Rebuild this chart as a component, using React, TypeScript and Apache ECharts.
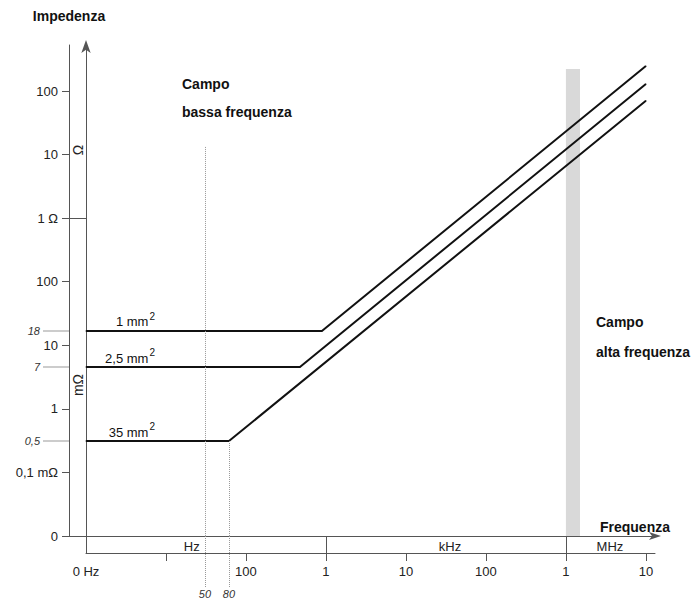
import React, { useEffect, useRef } from 'react';
import * as echarts from 'echarts';

// ---------- data (frequency in Hz, impedance in ohm) ----------
const conductorNames = ['1 mm', '2,5 mm', '35 mm'];
const flatImpedance = [0.0168, 0.00455, 0.000312];
const cornerFrequency = [890, 473, 61.3];
const endFrequency = [1e7, 1e7, 1e7];
const endImpedance = [247, 129, 70.5];
const startFrequency = 1;
const flatImpedanceLabels = ['18', '7', '0,5'];

const freqTickValues = [10, 100, 1e3, 1e4, 1e5, 1e6, 1e7];
const freqLabelValues = [1, 100, 1e3, 1e4, 1e5, 1e6, 1e7];
const freqLabelTexts = ['0 Hz', '100', '1', '10', '100', '1', '10'];
const unitEdges = [1, 1e3, 1e6];
const unitLabelFreqs = [21, 35500, 3.55e6];
const unitLabelTexts = ['Hz', 'kHz', 'MHz'];

const impTickValues = [1e-5, 1e-4, 1e-3, 1e-2, 1e-1, 1, 10, 100];
const impTickLabels = ['0', '0,1 mΩ', '1', '10', '100', '1 Ω', '10', '100'];
const impLongTicks = [1e-5, 1];

const markerFreqs = [30.7, 61.3];
const markerTopImpedance = [13.2, 0.000312];
const markerLabels = ['50', '80'];

const hfBandFreqs = [1e6, 1.5e6];
const hfBandTopImpedance = 222;

const freqMin = 1;
const freqMax = 1.3e7;
const impMin = 1e-5;
const impMax = 530;

// ---------- helpers ----------
const X = (f: number) => Math.log10(f);
const Y = (z: number) => Math.log10(z / impMin);
const labeler = (vals: number[], texts: string[]) => (v: number) => {
  const i = vals.findIndex((t) => Math.abs(t - v) < 1e-7);
  return i < 0 ? '' : texts[i];
};

const FONT = '"Liberation Sans", Arial, Helvetica, sans-serif';
const AX = '#555';
const TXT = '#222';

export default function App() {
  const ref = useRef<HTMLDivElement>(null);

  useEffect(() => {
    if (!ref.current) return;
    const chart = echarts.init(ref.current, undefined, { renderer: 'svg' });

    const freqTickX = freqTickValues.map(X);
    const freqLabelX = freqLabelValues.map(X);
    const unitEdgeX = unitEdges.map(X);
    const unitLabelX = unitLabelFreqs.map(X);
    const markerX = markerFreqs.map(X);
    const impTickY = impTickValues.map(Y);
    const impLongY = impLongTicks.map(Y);
    const flatY = flatImpedance.map(Y);

    const xBase: any = {
      type: 'value',
      gridIndex: 0,
      min: X(freqMin),
      max: X(freqMax),
      position: 'bottom',
      splitLine: { show: false },
      axisLine: { show: false, onZero: false },
      axisTick: { show: false },
      axisLabel: { show: false },
    };
    const yBase: any = {
      type: 'value',
      gridIndex: 0,
      min: Y(impMin),
      max: Y(impMax),
      position: 'left',
      splitLine: { show: false },
      axisLine: { show: false, onZero: false },
      axisTick: { show: false },
      axisLabel: { show: false },
    };
    const axisLineStyle = { color: AX, width: 1 };
    const labelFont = { fontFamily: FONT, fontSize: 13, color: TXT };
    const smallItalic = { fontFamily: FONT, fontSize: 11, fontStyle: 'italic', color: '#333' };

    const lineSeries = conductorNames.map((name, i) => {
      const s: any = {
        type: 'line',
        name,
        xAxisIndex: 0,
        yAxisIndex: 0,
        symbol: 'circle',
        symbolSize: 1,
        showSymbol: true,
        silent: true,
        z: 3,
        lineStyle: { color: '#111', width: 2 },
        itemStyle: { color: '#111' },
        data: [
          {
            value: [X(startFrequency), Y(flatImpedance[i])],
            label: {
              show: true,
              position: 'top',
              distance: 0,
              align: 'right',
              offset: [69, -2],
              formatter: `{n|${name}}{s|2}`,
              rich: {
                n: { fontFamily: FONT, fontSize: 13, color: '#111', verticalAlign: 'bottom', padding: [4, 0, 0, 0] },
                s: { fontFamily: FONT, fontSize: 10, color: '#111', verticalAlign: 'top', padding: [0, 0, 0, 1] },
              },
            },
          },
          [X(cornerFrequency[i]), Y(flatImpedance[i])],
          [X(endFrequency[i]), Y(endImpedance[i])],
        ],
      };
      if (i === 0) {
        s.markArea = {
          silent: true,
          label: { show: false },
          itemStyle: { color: '#d9d9d9' },
          data: [[
            { coord: [X(hfBandFreqs[0]), Y(impMin)] },
            { coord: [X(hfBandFreqs[1]), Y(hfBandTopImpedance)] },
          ]],
        };
        s.markLine = {
          silent: true,
          symbol: ['none', 'none'],
          label: { show: false },
          lineStyle: { color: '#999', type: 'dotted', width: 1 },
          data: markerFreqs.map((f, k) => [
            { coord: [X(f), Y(markerTopImpedance[k])] },
            { coord: [X(f), Y(impMin)] },
          ]),
        };
      }
      return s;
    });

    const option: any = {
      animation: false,
      textStyle: { fontFamily: FONT },
      grid: { left: 86, top: 45, width: 569, height: 491, outerBoundsMode: 'none', containLabel: false },
      xAxis: [
        {
          ...xBase,
          axisLine: {
            show: true, onZero: false, lineStyle: axisLineStyle,
            symbol: ['none', 'arrow'], symbolSize: [6, 12], symbolOffset: [0, 6],
          },
          name: 'Frequenza',
          nameLocation: 'end',
          nameGap: 15,
          nameTextStyle: {
            fontFamily: FONT, fontSize: 14, fontWeight: 'bold', color: '#111',
            align: 'right', verticalAlign: 'bottom', padding: [0, 0, 2, 0],
          },
        },
        {
          ...xBase,
          offset: 17,
          axisLine: { show: true, onZero: false, lineStyle: axisLineStyle },
          axisTick: { show: true, length: 8, customValues: freqTickX, lineStyle: axisLineStyle },
          axisLabel: {
            show: true, customValues: freqLabelX, formatter: labeler(freqLabelX, freqLabelTexts),
            margin: 12, showMinLabel: true, showMaxLabel: true, ...labelFont,
          },
        },
        {
          ...xBase,
          offset: 17,
          axisTick: { show: true, inside: true, length: 17, customValues: unitEdgeX, lineStyle: axisLineStyle },
          axisLabel: {
            show: true, inside: true, margin: 0, customValues: unitLabelX,
            formatter: labeler(unitLabelX, unitLabelTexts), ...labelFont,
          },
        },
        {
          ...xBase,
          offset: 0,
          axisTick: { show: true, length: 51, customValues: markerX, lineStyle: { color: '#999', type: 'dotted', width: 1 } },
          axisLabel: {
            show: true, customValues: markerX, formatter: labeler(markerX, markerLabels),
            margin: 52, ...smallItalic,
          },
        },
      ],
      yAxis: [
        {
          ...yBase,
          axisLine: {
            show: true, onZero: false, lineStyle: axisLineStyle,
            symbol: ['none', 'arrow'], symbolSize: [7, 13], symbolOffset: [0, 5],
          },
        },
        {
          ...yBase,
          offset: 17,
          axisLine: { show: true, onZero: false, lineStyle: axisLineStyle },
          axisTick: { show: true, length: 7, customValues: impTickY, lineStyle: axisLineStyle },
          axisLabel: {
            show: true, customValues: impTickY, formatter: labeler(impTickY, impTickLabels),
            margin: 11, showMinLabel: true, showMaxLabel: true, ...labelFont,
          },
          name: 'Impedenza',
          nameLocation: 'end',
          nameGap: 22,
          nameTextStyle: { fontFamily: FONT, fontSize: 14, fontWeight: 'bold', color: '#111' },
        },
        {
          ...yBase,
          offset: 0,
          axisTick: { show: true, length: 24, customValues: impLongY, lineStyle: axisLineStyle },
        },
        {
          ...yBase,
          offset: 17,
          axisTick: { show: true, length: 26, customValues: flatY, lineStyle: { color: '#bbb', width: 1.5 } },
          axisLabel: {
            show: true, customValues: flatY, formatter: labeler(flatY, flatImpedanceLabels),
            margin: 29, ...smallItalic,
          },
        },
      ],
      series: lineSeries,
      graphic: [
        { type: 'text', x: 182, y: 84, style: { text: 'Campo', fontFamily: FONT, fontSize: 14, fontWeight: 'bold', fill: '#111', align: 'left', verticalAlign: 'middle' } },
        { type: 'text', x: 182, y: 112, style: { text: 'bassa frequenza', fontFamily: FONT, fontSize: 14, fontWeight: 'bold', fill: '#111', align: 'left', verticalAlign: 'middle' } },
        { type: 'text', x: 596, y: 322, style: { text: 'Campo', fontFamily: FONT, fontSize: 14, fontWeight: 'bold', fill: '#111', align: 'left', verticalAlign: 'middle' } },
        { type: 'text', x: 596, y: 352, style: { text: 'alta frequenza', fontFamily: FONT, fontSize: 14, fontWeight: 'bold', fill: '#111', align: 'left', verticalAlign: 'middle' } },
        { type: 'text', x: 78, y: 150, rotation: Math.PI / 2, style: { text: 'Ω', fontFamily: FONT, fontSize: 14, fill: TXT, align: 'center', verticalAlign: 'middle' } },
        { type: 'text', x: 78, y: 385, rotation: Math.PI / 2, style: { text: 'mΩ', fontFamily: FONT, fontSize: 14, fill: TXT, align: 'center', verticalAlign: 'middle' } },
      ],
    };

    chart.setOption(option);
    return () => chart.dispose();
  }, []);

  return (
    <div
      ref={ref}
      style={{ position: 'absolute', left: 0, top: 0, width: 697, height: 601, background: '#fff' }}
    />
  );
}
